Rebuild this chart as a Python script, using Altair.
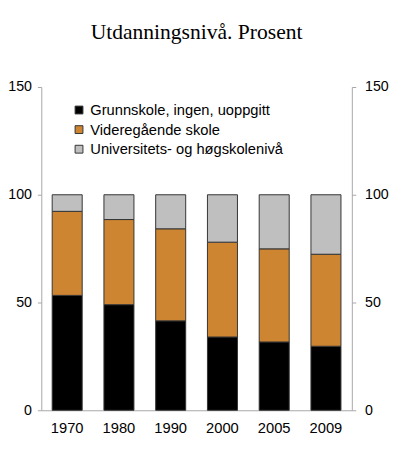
import altair as alt
import pandas as pd

years = ["1970", "1980", "1990", "2000", "2005", "2009"]
levels = ["Grunnskole, ingen, uoppgitt", "Videregående skole", "Universitets- og høgskolenivå"]
grunnskole = [53.3, 49.0, 41.5, 34.0, 31.7, 29.7]
videregaende = [39.0, 39.5, 42.7, 44.0, 43.2, 42.7]
universitet = [7.7, 11.5, 15.8, 22.0, 25.1, 27.6]
colors = ["#000000", "#CD8532", "#BFBFBF"]

rows = []
for i, yr in enumerate(years):
    for k, vals in enumerate([grunnskole, videregaende, universitet]):
        rows.append({"year": yr, "level": levels[k], "value": vals[i], "order": k})
df = pd.DataFrame(rows)

font = "Liberation Sans"
x = alt.X("year:N", title=None, sort=years,
          scale=alt.Scale(paddingInner=0.42, paddingOuter=0.21),
          axis=alt.Axis(labelAngle=0, ticks=False, domainColor="#A6A6A6",
                        labelFontSize=15, labelFont=font, labelColor="#000",
                        labelPadding=11))
y_scale = alt.Scale(domain=[0, 150])

def y_axis(side, pad):
    return alt.Axis(orient=side, values=[0, 50, 100, 150], grid=False,
                    tickSize=4, tickColor="#A6A6A6", domainColor="#A6A6A6",
                    labelFontSize=14.5, labelFont=font, labelColor="#000",
                    labelPadding=pad, title=None)

bars = alt.Chart(df).mark_bar(stroke="#333333", strokeWidth=1).encode(
    x=x,
    y=alt.Y("value:Q", stack="zero", scale=y_scale, axis=y_axis("left", 6)),
    color=alt.Color("level:N", sort=levels,
                    scale=alt.Scale(domain=levels, range=colors),
                    legend=alt.Legend(title=None, orient="none", legendX=31, legendY=16,
                                      padding=0, rowPadding=4, symbolType="square",
                                      symbolSize=64, symbolStrokeColor="#333333",
                                      symbolStrokeWidth=1, labelFontSize=15,
                                      labelFont=font, labelColor="#000",
                                      labelLimit=400, labelOffset=4)),
    order=alt.Order("order:Q"),
)

right = alt.Chart(df).mark_bar(opacity=0).encode(
    x=x,
    y=alt.Y("value:Q", stack="zero", scale=y_scale, axis=y_axis("right", 9)),
    order=alt.Order("order:Q"),
)

chart = alt.layer(bars, right).resolve_scale(y="independent").properties(
    width=317,
    height=330,
    autosize=alt.AutoSizeParams(type="none"),
    padding={"left": 34, "top": 76, "right": 41, "bottom": 40},
    title=alt.Title("Utdanningsnivå. Prosent", font="Liberation Serif", fontSize=22,
                    fontWeight="normal", color="#000", offset=36, anchor="middle"),
).configure_view(stroke=None)

chart.save("out.html", embed_options={"renderer": "svg", "actions": False})
